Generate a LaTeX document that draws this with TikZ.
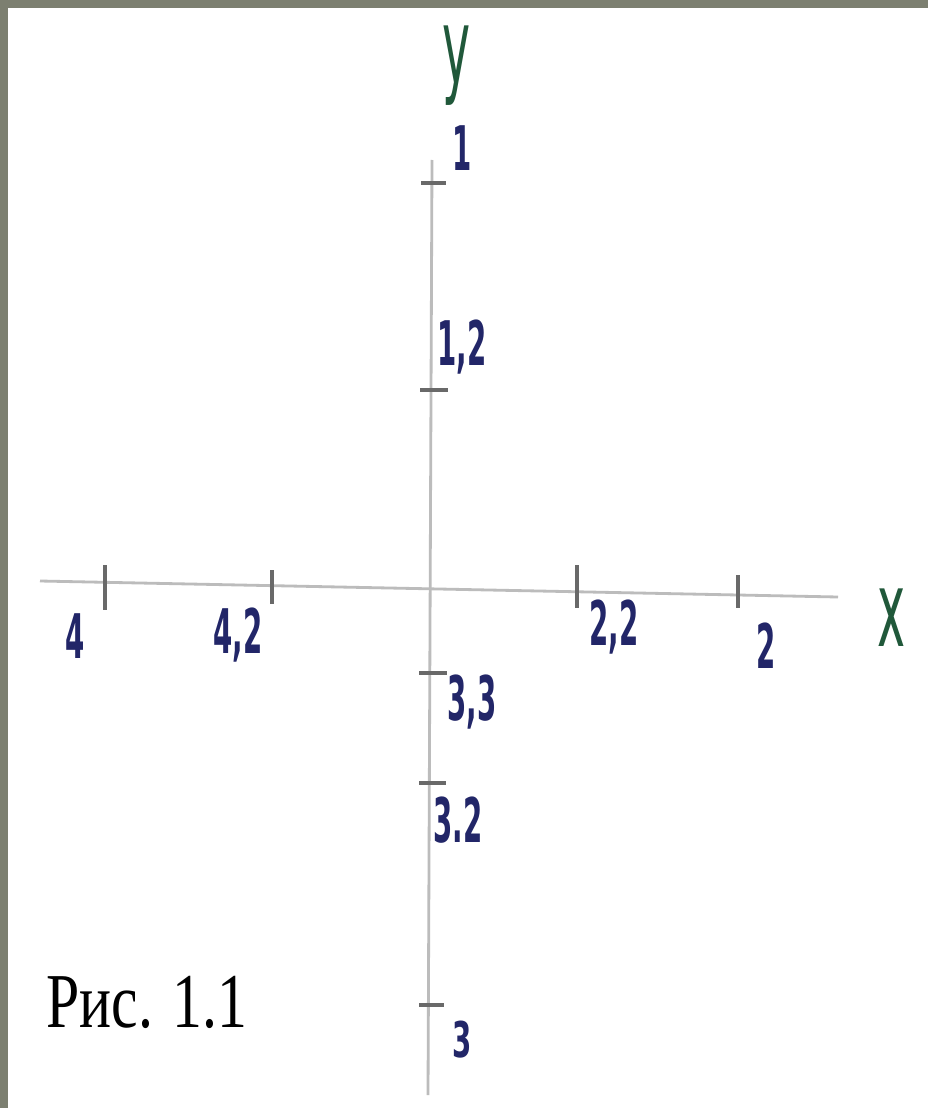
\documentclass[tikz,border=0pt]{standalone}
\usepackage{fontspec}
\setmainfont{Liberation Serif}
\newfontfamily\handfont{DejaVu Sans}
\usetikzlibrary{positioning}
\definecolor{frame}{RGB}{124,127,112}
\definecolor{ink}{RGB}{34,38,104}
\definecolor{letterink}{RGB}{32,88,58}
\definecolor{axisgray}{RGB}{188,188,188}
\definecolor{tickgray}{RGB}{105,105,105}
\begin{document}
\begin{tikzpicture}[
  x=0.02cm, y=-0.02cm,
  axis/.style={line width=1.6pt, axisgray},
  tickmark/.style={line width=2.2pt, tickgray},
  num/.style={ink, inner sep=0pt, xscale=0.45, font=\handfont\bfseries\fontsize{35}{35}\selectfont},
  letter/.style={letterink, inner sep=0pt, xscale=0.45, font=\handfont\fontsize{60}{60}\selectfont},
  every node/.style={inner sep=0pt}
]
% frame
\fill[frame] (0,0) rectangle (928,1108);
\fill[white] (8,8) rectangle (928,1108);
\useasboundingbox (0,0) rectangle (928,1108);
% axes
\coordinate (xl) at (40,581);
\coordinate (xr) at (838,597);
\coordinate (yt) at (432,160);
\coordinate (yb) at (428,1095);
\draw[axis] (xl) -- (xr);
\draw[axis] (yt) -- (yb);
\node[letter] (xlab) at (892,618) {x};
\node[letter] (ylab) at (457,66) {y};
% ticks on x
\draw[tickmark] (105,565) -- (105,610);
\draw[tickmark] (272,570) -- (272,604);
\draw[tickmark] (577,565) -- (577,608);
\draw[tickmark] (738,575) -- (738,608);
% ticks on y
\draw[tickmark] (421,183) -- (446,183);
\draw[tickmark] (420,390) -- (448,390);
\draw[tickmark] (419,673) -- (447,673);
\draw[tickmark] (419,783) -- (446,783);
\draw[tickmark] (419,1005) -- (444,1005);
% labels
\node[num] (n4) at (75,636) {4};
\node[num] (n42) at (238,635) {4,2};
\node[num] (n22) at (614,627) {2,2};
\node[num] (n2) at (766,646) {2};
\node[num] (n1) at (462,148) {1};
\node[num] (n12) at (462,347) {1,2};
\node[num] (n33) at (472,702) {3,3};
\node[num] (n32) at (458,820) {3.2};
\node[num, yscale=0.8] (n3) at (462,1040) {3};
% caption
\node[anchor=base west, yscale=1.3, font=\fontsize{34}{34}\selectfont] (cap) at (46,1027) {Рис. 1.1};
\end{tikzpicture}
\end{document}
